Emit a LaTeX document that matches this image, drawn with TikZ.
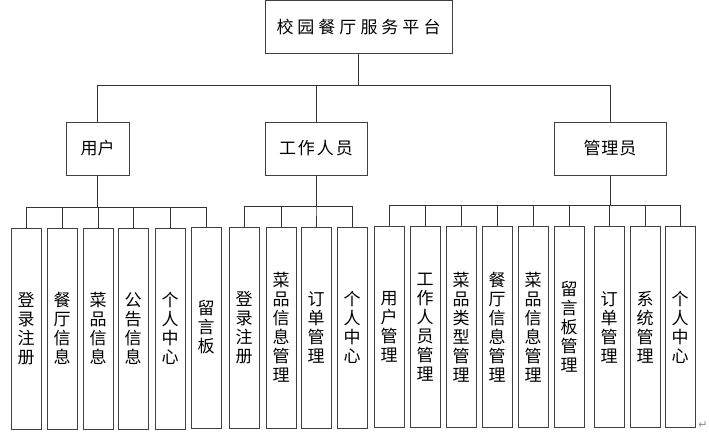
\documentclass[tikz,border=0pt]{standalone}
\usepackage{fontspec}
\setmainfont{Noto Sans CJK SC}
\newfontfamily\symfont{DejaVu Sans}
\begin{document}
\begin{tikzpicture}[x=1pt,y=-1pt,
  box/.style={draw=black!75,line width=1pt,inner sep=0pt,fill=white,
    font=\fontsize{17}{19}\selectfont,align=center},
  leaf/.style={box,minimum width=30pt,minimum height=201pt},
  mid/.style={box,minimum height=53pt},
  conn/.style={draw=black!80,line width=1pt}]
\useasboundingbox (0,0) rectangle (709,436);
\fill[white] (0,0) rectangle (709,436);
% top
\node[mid,minimum width=187pt] (top) at (358.5,27) {校\hspace{4pt}园\hspace{4pt}餐\hspace{4pt}厅\hspace{4pt}服\hspace{4pt}务\hspace{4pt}平\hspace{4pt}台};
% middle
\node[mid,minimum width=63pt] (user) at (97.5,148.5) {用户};
\node[mid,minimum width=102pt] (staff) at (316,148.5) {工\hspace{2pt}作\hspace{2pt}人\hspace{2pt}员};
\node[mid,minimum width=112pt] (admin) at (610,148.5) {管\hspace{1pt}理\hspace{1pt}员};
% bus coordinates
\coordinate (b0) at (0,85);
\coordinate (b1) at (0,207);
\coordinate (b2) at (0,206);
\coordinate (b3) at (0,205);
% user leaves
\node[leaf] (u1) at (26,328.5) {登\\录\\注\\册};
\node[leaf] (u2) at (62,328.5) {餐\\厅\\信\\息};
\node[leaf] (u3) at (98,328.5) {菜\\品\\信\\息};
\node[leaf] (u4) at (133,328.5) {公\\告\\信\\息};
\node[leaf] (u5) at (170,328.5) {个\\人\\中\\心};
\node[leaf] (u6) at (206,327.5) {留\\言\\板};
% staff leaves
\node[leaf] (s1) at (244,327.5) {登\\录\\注\\册};
\node[leaf] (s2) at (281,327.5) {菜\\品\\信\\息\\管\\理};
\node[leaf] (s3) at (316,327.5) {订\\单\\管\\理};
\node[leaf] (s4) at (352,327.5) {个\\人\\中\\心};
% admin leaves
\node[leaf] (a1) at (389,327) {用\\户\\管\\理};
\node[leaf] (a2) at (425,327) {工\\作\\人\\员\\管\\理};
\node[leaf] (a3) at (461,327) {菜\\品\\类\\型\\管\\理};
\node[leaf] (a4) at (497,327) {餐\\厅\\信\\息\\管\\理};
\node[leaf] (a5) at (533,327) {菜\\品\\信\\息\\管\\理};
\node[leaf] (a6) at (569,327) {留\\言\\板\\管\\理};
\node[leaf] (a7) at (609,327) {订\\单\\管\\理};
\node[leaf] (a8) at (645,327) {系\\统\\管\\理};
\node[leaf] (a9) at (680,327) {个\\人\\中\\心};
% connectors
\foreach \c in {user,staff,admin}
  \draw[conn] (top.south) -- (top.south |- b0) -| (\c.north);
\foreach \c in {u1,u2,u3,u4,u5,u6}
  \draw[conn] (user.south) -- (user.south |- b1) -| (\c.north);
\foreach \c in {s1,s2,s3,s4}
  \draw[conn] (staff.south) -- (staff.south |- b2) -| (\c.north);
\foreach \c in {a1,a2,a3,a4,a5,a6,a7,a8,a9}
  \draw[conn] (admin.south) -- (admin.south |- b3) -| (\c.north);
% paragraph mark
\node[text=black!45,font=\symfont\fontsize{11}{11}\selectfont,inner sep=0pt] (pm) at (703,425) {↵};
\end{tikzpicture}
\end{document}
